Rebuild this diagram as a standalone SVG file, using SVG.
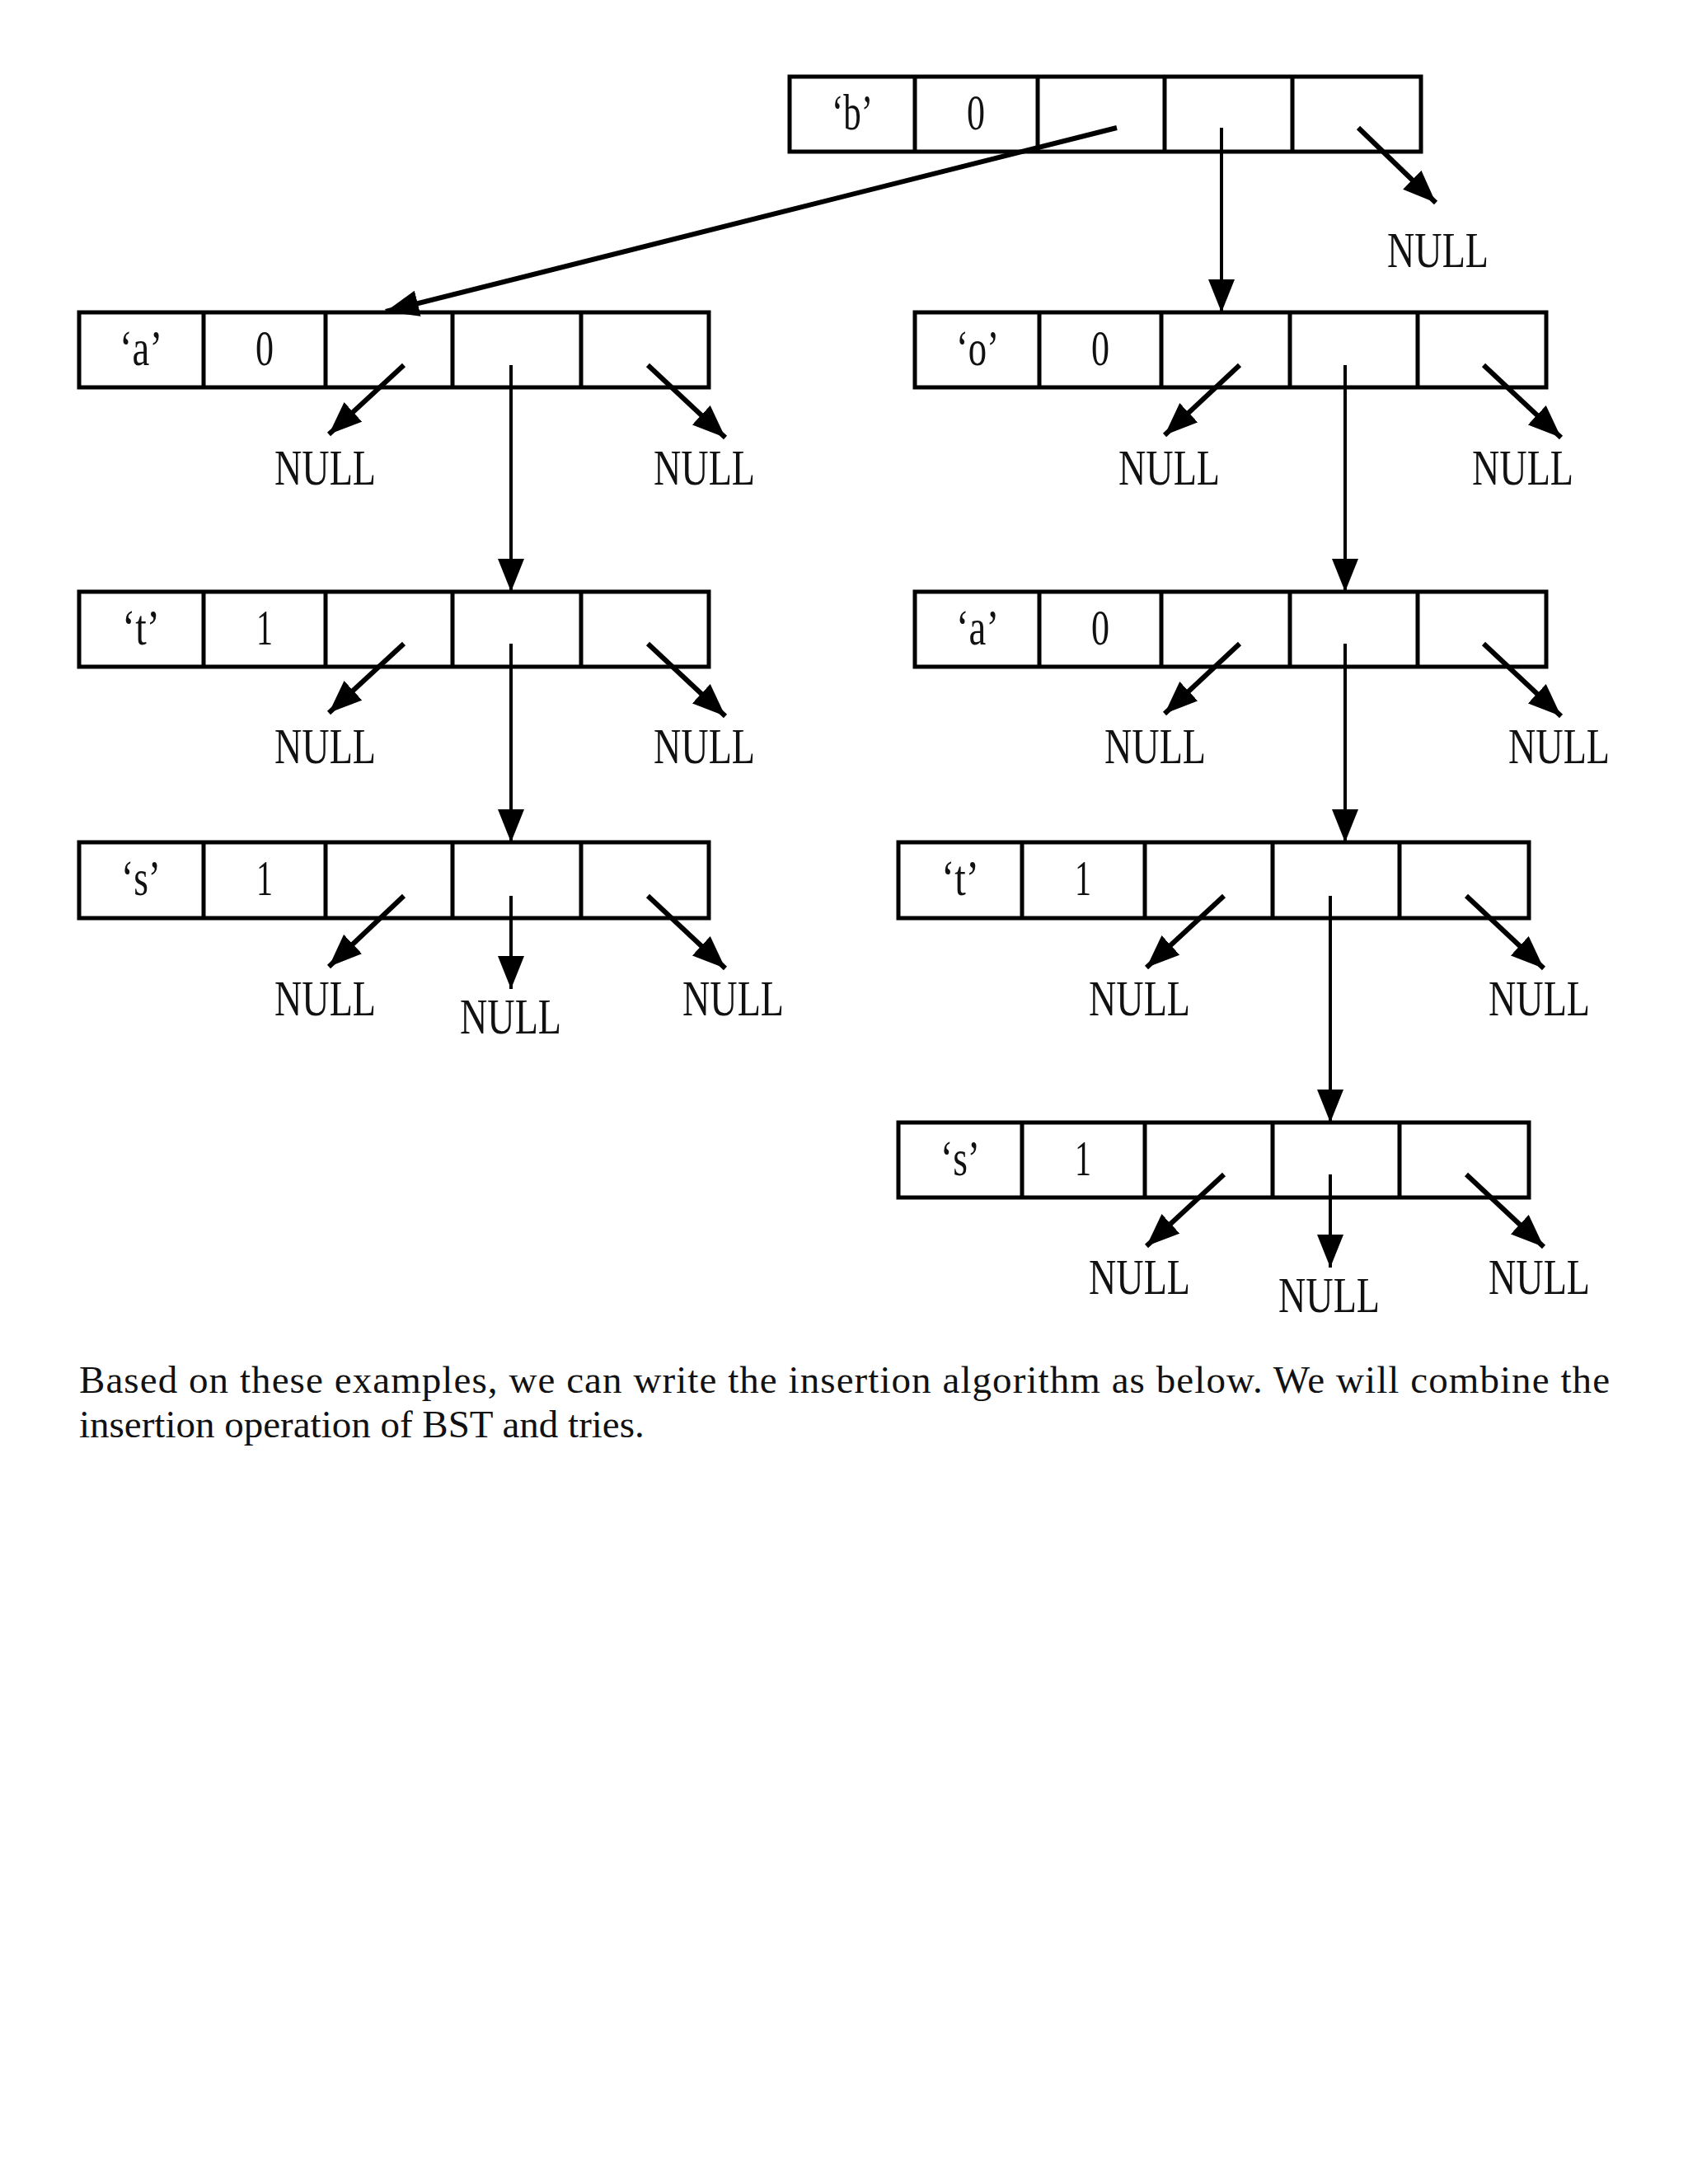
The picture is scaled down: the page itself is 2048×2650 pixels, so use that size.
<svg xmlns="http://www.w3.org/2000/svg" width="2048" height="2650" viewBox="0 0 2048 2650">
<style>
.cell{fill:none;stroke:#000;stroke-width:5}
.lbl{font-family:"Liberation Serif",serif;font-size:62px;fill:#111;text-anchor:middle}
.null{font-family:"Liberation Serif",serif;font-size:62px;fill:#111}
.ptr{stroke:#000;stroke-width:6;fill:none}
.down{stroke:#000;stroke-width:4;fill:none}
.para{font-family:"Liberation Serif",serif;font-size:47px;fill:#111}
</style>
<defs>
<marker id="ah" viewBox="0 0 40 32" refX="40" refY="16" markerWidth="40" markerHeight="32" markerUnits="userSpaceOnUse" orient="auto">
<path d="M0,0 L40,16 L0,32 z" fill="#000"/>
</marker>
</defs>
<rect width="2048" height="2650" fill="#fff"/>

<g id="node-root">
<rect class="cell" x="958" y="93" width="766" height="91"/>
<path class="cell" d="M1110,93V184M1259,93V184M1413,93V184M1568,93V184"/>
<text class="lbl" x="1034" y="157" textLength="50" lengthAdjust="spacingAndGlyphs">‘b’</text>
<text class="lbl" x="1184" y="157" textLength="22" lengthAdjust="spacingAndGlyphs">0</text>
</g>

<g id="node-a-left">
<rect class="cell" x="96" y="379" width="764" height="91"/>
<path class="cell" d="M247,379V470M395,379V470M549,379V470M705,379V470"/>
<text class="lbl" x="171" y="443" textLength="52" lengthAdjust="spacingAndGlyphs">‘a’</text>
<text class="lbl" x="321" y="443" textLength="22" lengthAdjust="spacingAndGlyphs">0</text>
</g>

<g id="node-t-left">
<rect class="cell" x="96" y="718" width="764" height="91"/>
<path class="cell" d="M247,718V809M395,718V809M549,718V809M705,718V809"/>
<text class="lbl" x="171" y="782" textLength="46" lengthAdjust="spacingAndGlyphs">‘t’</text>
<text class="lbl" x="321" y="782" textLength="20" lengthAdjust="spacingAndGlyphs">1</text>
</g>

<g id="node-s-left">
<rect class="cell" x="96" y="1022" width="764" height="92"/>
<path class="cell" d="M247,1022V1114M395,1022V1114M549,1022V1114M705,1022V1114"/>
<text class="lbl" x="171" y="1086" textLength="48" lengthAdjust="spacingAndGlyphs">‘s’</text>
<text class="lbl" x="321" y="1086" textLength="20" lengthAdjust="spacingAndGlyphs">1</text>
</g>

<g id="node-o-right">
<rect class="cell" x="1110" y="379" width="766" height="91"/>
<path class="cell" d="M1261,379V470M1409,379V470M1565,379V470M1720,379V470"/>
<text class="lbl" x="1186" y="443" textLength="52" lengthAdjust="spacingAndGlyphs">‘o’</text>
<text class="lbl" x="1335" y="443" textLength="22" lengthAdjust="spacingAndGlyphs">0</text>
</g>

<g id="node-a-right">
<rect class="cell" x="1110" y="718" width="766" height="91"/>
<path class="cell" d="M1261,718V809M1409,718V809M1565,718V809M1720,718V809"/>
<text class="lbl" x="1186" y="782" textLength="52" lengthAdjust="spacingAndGlyphs">‘a’</text>
<text class="lbl" x="1335" y="782" textLength="22" lengthAdjust="spacingAndGlyphs">0</text>
</g>

<g id="node-t-right">
<rect class="cell" x="1090" y="1022" width="765" height="92"/>
<path class="cell" d="M1240,1022V1114M1389,1022V1114M1544,1022V1114M1698,1022V1114"/>
<text class="lbl" x="1165" y="1086" textLength="46" lengthAdjust="spacingAndGlyphs">‘t’</text>
<text class="lbl" x="1314" y="1086" textLength="20" lengthAdjust="spacingAndGlyphs">1</text>
</g>

<g id="node-s-right">
<rect class="cell" x="1090" y="1362" width="765" height="91"/>
<path class="cell" d="M1240,1362V1453M1389,1362V1453M1544,1362V1453M1698,1362V1453"/>
<text class="lbl" x="1165" y="1426" textLength="48" lengthAdjust="spacingAndGlyphs">‘s’</text>
<text class="lbl" x="1314" y="1426" textLength="20" lengthAdjust="spacingAndGlyphs">1</text>
</g>

<g id="connectors">
<line class="ptr" x1="1355" y1="155" x2="468" y2="378" marker-end="url(#ah)"/>
<line class="down" x1="1482" y1="155" x2="1482" y2="379" marker-end="url(#ah)"/>
<line class="ptr" x1="1648" y1="155" x2="1742" y2="246" marker-end="url(#ah)"/>

<line class="ptr" x1="490" y1="443" x2="399" y2="527" marker-end="url(#ah)"/>
<line class="down" x1="620" y1="443" x2="620" y2="718" marker-end="url(#ah)"/>
<line class="ptr" x1="786" y1="443" x2="880" y2="531" marker-end="url(#ah)"/>

<line class="ptr" x1="490" y1="781" x2="399" y2="865" marker-end="url(#ah)"/>
<line class="down" x1="620" y1="781" x2="620" y2="1022" marker-end="url(#ah)"/>
<line class="ptr" x1="786" y1="781" x2="880" y2="869" marker-end="url(#ah)"/>

<line class="ptr" x1="490" y1="1087" x2="399" y2="1173" marker-end="url(#ah)"/>
<line class="down" x1="620" y1="1087" x2="620" y2="1200" marker-end="url(#ah)"/>
<line class="ptr" x1="786" y1="1087" x2="880" y2="1175" marker-end="url(#ah)"/>

<line class="ptr" x1="1504" y1="443" x2="1413" y2="528" marker-end="url(#ah)"/>
<line class="down" x1="1632" y1="443" x2="1632" y2="718" marker-end="url(#ah)"/>
<line class="ptr" x1="1800" y1="443" x2="1894" y2="531" marker-end="url(#ah)"/>

<line class="ptr" x1="1504" y1="781" x2="1413" y2="866" marker-end="url(#ah)"/>
<line class="down" x1="1632" y1="781" x2="1632" y2="1022" marker-end="url(#ah)"/>
<line class="ptr" x1="1800" y1="781" x2="1894" y2="869" marker-end="url(#ah)"/>

<line class="ptr" x1="1485" y1="1087" x2="1391" y2="1174" marker-end="url(#ah)"/>
<line class="down" x1="1614" y1="1087" x2="1614" y2="1362" marker-end="url(#ah)"/>
<line class="ptr" x1="1779" y1="1087" x2="1873" y2="1175" marker-end="url(#ah)"/>

<line class="ptr" x1="1485" y1="1425" x2="1391" y2="1512" marker-end="url(#ah)"/>
<line class="down" x1="1614" y1="1425" x2="1614" y2="1538" marker-end="url(#ah)"/>
<line class="ptr" x1="1779" y1="1425" x2="1873" y2="1513" marker-end="url(#ah)"/>
</g>

<g id="nulls">
<text class="null" x="1683" y="324" textLength="123" lengthAdjust="spacingAndGlyphs">NULL</text>
<text class="null" x="333" y="588" textLength="123" lengthAdjust="spacingAndGlyphs">NULL</text>
<text class="null" x="793" y="588" textLength="123" lengthAdjust="spacingAndGlyphs">NULL</text>
<text class="null" x="333" y="926" textLength="123" lengthAdjust="spacingAndGlyphs">NULL</text>
<text class="null" x="793" y="926" textLength="123" lengthAdjust="spacingAndGlyphs">NULL</text>
<text class="null" x="333" y="1232" textLength="123" lengthAdjust="spacingAndGlyphs">NULL</text>
<text class="null" x="558" y="1254" textLength="123" lengthAdjust="spacingAndGlyphs">NULL</text>
<text class="null" x="828" y="1232" textLength="123" lengthAdjust="spacingAndGlyphs">NULL</text>
<text class="null" x="1357" y="588" textLength="123" lengthAdjust="spacingAndGlyphs">NULL</text>
<text class="null" x="1786" y="588" textLength="123" lengthAdjust="spacingAndGlyphs">NULL</text>
<text class="null" x="1340" y="926" textLength="123" lengthAdjust="spacingAndGlyphs">NULL</text>
<text class="null" x="1830" y="926" textLength="123" lengthAdjust="spacingAndGlyphs">NULL</text>
<text class="null" x="1321" y="1232" textLength="123" lengthAdjust="spacingAndGlyphs">NULL</text>
<text class="null" x="1806" y="1232" textLength="123" lengthAdjust="spacingAndGlyphs">NULL</text>
<text class="null" x="1321" y="1570" textLength="123" lengthAdjust="spacingAndGlyphs">NULL</text>
<text class="null" x="1551" y="1592" textLength="123" lengthAdjust="spacingAndGlyphs">NULL</text>
<text class="null" x="1806" y="1570" textLength="123" lengthAdjust="spacingAndGlyphs">NULL</text>
</g>

<g id="paragraph">
<text class="para" x="96" y="1690" textLength="1857" lengthAdjust="spacing">Based on these examples, we can write the insertion algorithm as below. We will combine the</text>
<text class="para" x="96" y="1744">insertion operation of BST and tries.</text>
</g>
</svg>
